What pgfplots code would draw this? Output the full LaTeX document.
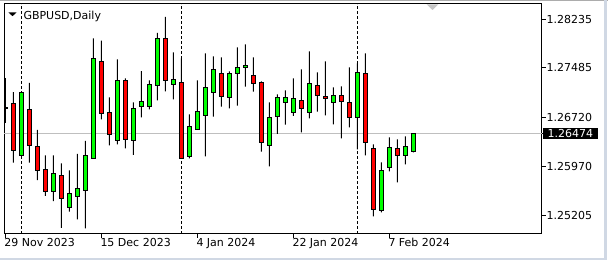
\documentclass[border=0pt]{standalone}
\usepackage{fontspec}
\setmainfont{DejaVu Sans}
\usepackage{pgfplots}
\pgfplotsset{compat=1.18}
\usepackage{pgfplotstable}
\definecolor{candlegreen}{RGB}{0,255,0}
\definecolor{candlered}{RGB}{255,0,0}
\definecolor{frameblue}{RGB}{208,216,228}

\pgfplotstableread{
i O H L C
0 1.26870 1.27329 1.26635 1.26866
1 1.26939 1.27113 1.26022 1.26214
2 1.26137 1.27109 1.26137 1.27109
3 1.26846 1.27252 1.26022 1.26291
4 1.26275 1.26527 1.25755 1.25905
5 1.25921 1.26137 1.25509 1.25575
6 1.25575 1.26137 1.25431 1.25859
7 1.25828 1.26013 1.25015 1.25467
8 1.25334 1.25905 1.25269 1.25550
9 1.25504 1.26157 1.25149 1.25617
10 1.25593 1.26357 1.25010 1.26126
11 1.26090 1.27942 1.26090 1.27633
12 1.27587 1.27905 1.26692 1.26785
13 1.26800 1.27031 1.26291 1.26461
14 1.26368 1.27618 1.26306 1.27294
15 1.27294 1.27325 1.26245 1.26383
16 1.26368 1.26954 1.26141 1.26862
17 1.26893 1.27437 1.26723 1.26970
18 1.26893 1.27294 1.26846 1.27232
19 1.27217 1.28024 1.26985 1.27936
20 1.27936 1.28271 1.27124 1.27294
21 1.27232 1.27726 1.27001 1.27309
22 1.27263 1.27633 1.26090 1.26090
23 1.26121 1.26769 1.26090 1.26584
24 1.26538 1.27294 1.26538 1.26815
25 1.26754 1.27710 1.26121 1.27186
26 1.27109 1.27664 1.26732 1.27464
27 1.27402 1.27649 1.26886 1.27047
28 1.27031 1.27433 1.26862 1.27402
29 1.27402 1.27803 1.26902 1.27494
30 1.27494 1.27849 1.27195 1.27525
31 1.27371 1.27649 1.27118 1.27247
32 1.27263 1.27278 1.26192 1.26337
33 1.26291 1.26954 1.25964 1.26723
34 1.26738 1.27078 1.26465 1.27031
35 1.26954 1.27139 1.26609 1.27031
36 1.26800 1.27325 1.26743 1.27016
37 1.26985 1.27464 1.26491 1.26862
38 1.26800 1.27741 1.26707 1.27247
39 1.27217 1.27417 1.26809 1.27062
40 1.27047 1.27587 1.26754 1.27016
41 1.26954 1.27186 1.26615 1.27062
42 1.27062 1.27201 1.26399 1.26970
43 1.26954 1.27494 1.26569 1.26723
44 1.26723 1.27556 1.26226 1.27417
45 1.27402 1.27710 1.26137 1.26337
46 1.26245 1.26306 1.25195 1.25303
47 1.25288 1.26029 1.25257 1.25905
48 1.25951 1.26414 1.25890 1.26260
49 1.26245 1.26383 1.25720 1.26137
50 1.26137 1.26430 1.25998 1.26275
51 1.26198 1.26474 1.26183 1.26474
}\candles

\pgfplotsset{
  candleframe/.style={
    at={(4.5pt,27pt)}, anchor=south west, scale only axis,
    width=537pt, height=230pt,
    xmin=-0.1, xmax=67.025,
    ymin=1.24922, ymax=1.28471,
    enlargelimits=false,
    ybar stacked,
  },
}

\begin{document}
\begin{tikzpicture}[x=1pt,y=1pt]
\path[use as bounding box, fill=white] (0,0) rectangle (608,261);
% window frame
\fill[gray!65] (0,259.5) rectangle (608,261);
\fill[frameblue] (604,0.5) rectangle (607,261);
\fill[frameblue] (0,0.5) rectangle (607,3.2);
\begin{axis}[candleframe,
  bar width=1pt,
  axis line style={black, line width=1pt},
  tick align=outside,
  major tick length=4pt,
  every tick/.style={black, line width=1pt},
  xtick={0,12,24,36,48},
  xticklabels={29 Nov 2023,15 Dec 2023,4 Jan 2024,22 Jan 2024,7 Feb 2024},
  xtick pos=bottom,
  ytick={1.25205,1.25970,1.26720,1.27485,1.28235},
  yticklabels={1.25205,1.25970,1.26720,1.27485,1.28235},
  ytick pos=right, yticklabel pos=right,
  tick label style={font=\fontsize{11}{13}\selectfont, text=black},
  xticklabel style={anchor=north west, inner sep=0pt, xshift=-1pt},
  yticklabel style={anchor=west, inner sep=0pt, xshift=1pt},
  extra x ticks={2,22,44},
  extra x tick labels={},
  extra x tick style={grid=major, major grid style={black, line width=1pt, dash pattern=on 3pt off 2pt}, major tick length=0pt},
  extra y ticks={1.26474},
  extra y tick labels={1.26474},
  extra y tick style={grid=major, major grid style={gray!50, line width=1pt}, yticklabel style={fill=black, text=white, inner xsep=5pt, inner ysep=1pt, xshift=-4pt}},
]
\addplot[draw=none, fill=none, forget plot] table[x=i, y=L]{\candles};
\addplot[draw=none, fill=black, forget plot] table[x=i, y expr=\thisrow{H}-\thisrow{L}]{\candles};
\end{axis}
\begin{axis}[candleframe, hide axis, bar width=4pt]
\addplot[draw=none, fill=none] table[x=i, y expr={min(\thisrow{O},\thisrow{C})}]{\candles};
\addplot[draw=black, line width=1pt, fill=candlegreen] table[x=i, y expr={max(\thisrow{C}-\thisrow{O},0)}]{\candles};
\addplot[draw=black, line width=1pt, fill=candlered] table[x=i, y expr={max(\thisrow{O}-\thisrow{C},0)}]{\candles};
\end{axis}
% chart header and markers
\fill[black] (8.3,248.7) -- (16.7,248.7) -- (12.5,244.8) -- cycle;
\node[anchor=base west, inner sep=0pt, font=\fontsize{11}{13}\selectfont] at (23.3,241.7) {GBPUSD,Daily};
\fill[gray!45] (426.7,256.7) -- (438.3,256.7) -- (432.5,251) -- cycle;
\end{tikzpicture}
\end{document}
